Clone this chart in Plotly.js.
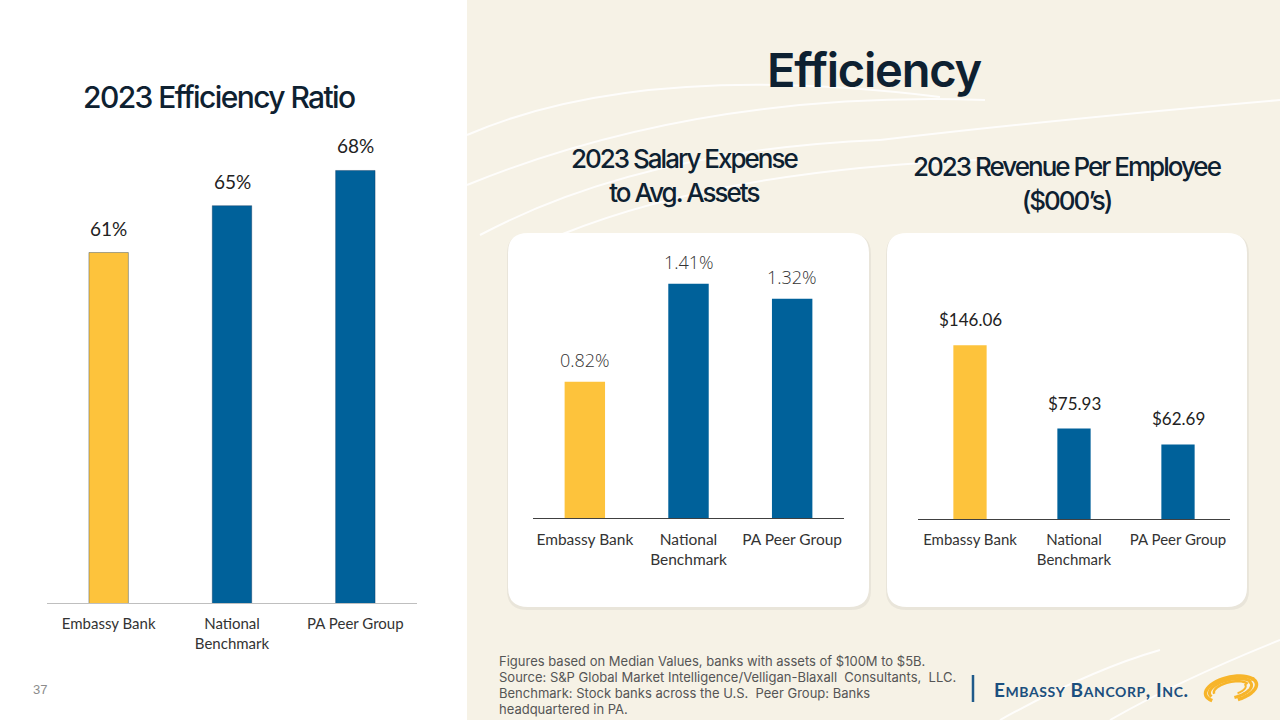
<!DOCTYPE html>
<html><head><meta charset="utf-8">
<script src="https://cdn.plot.ly/plotly-3.0.1.min.js"></script>
<style>html,body{margin:0;padding:0;background:#fff;}#chart{width:1280px;height:720px;}</style>
</head><body><div id="chart"></div>
<script>
// ---- data ----
const categories = ['Embassy Bank', 'National<br>Benchmark', 'PA Peer Group'];
const efficiencyRatio = [0.61, 0.65, 0.68];
const efficiencyLabels = ['61%', '65%', '68%'];
const salaryExpense = [0.82, 1.41, 1.32];
const salaryLabels = ['0.82%', '1.41%', '1.32%'];
const revenuePerEmployee = [146.06, 75.93, 62.69];
const revenueLabels = ['$146.06', '$75.93', '$62.69'];
const barColors = ['#FDC33C', '#00619A', '#00619A'];
const footnoteLines = [
  'Figures based on Median Values, banks with assets of $100M to $5B.',
  'Source: S&P Global Market Intelligence/Velligan-Blaxall  Consultants,  LLC.',
  'Benchmark: Stock banks across the U.S.  Peer Group: Banks',
  'headquartered in PA.'
];

// ---- helpers ----
const W = 1280, H = 720;
const fx = p => p / W;
const fy = p => 1 - p / H;

function roundRect(x0, y0, x1, y1, r) {
  return `M${x0+r},${y0} L${x1-r},${y0} Q${x1},${y0} ${x1},${y0+r} L${x1},${y1-r} Q${x1},${y1} ${x1-r},${y1} L${x0+r},${y1} Q${x0},${y1} ${x0},${y1-r} L${x0},${y0+r} Q${x0},${y0} ${x0+r},${y0} Z`;
}
function pathPx(d){ // pixel path -> paper path
  return d.replace(/(-?\d+\.?\d*),(-?\d+\.?\d*)/g, (m,a,b)=> (fx(+a)).toFixed(5)+','+(fy(+b)).toFixed(5));
}

const shapes = [];
shapes.push({type:'rect', xref:'paper', yref:'paper', x0:fx(467), x1:1, y0:0, y1:1, fillcolor:'#F6F2E6', line:{width:0}, layer:'below'});
const arcs = [
  'M467,135 Q640,60 940,97',
  'M467,185 Q700,90 985,100',
  'M480,235 Q640,150 880,140',
  'M560,235 Q720,170 980,160',
  'M880,140 Q1050,120 1280,100',
  'M1110,720 Q1180,680 1280,640',
  'M1000,720 Q1090,670 1160,650'
];
arcs.forEach(a => shapes.push({type:'path', xref:'paper', yref:'paper', path:pathPx(a), line:{color:'rgba(255,255,255,0.85)', width:2}, layer:'below'}));
[[508,233,869,607],[887,233,1247,607]].forEach(b=>{
  shapes.push({type:'path', xref:'paper', yref:'paper', path:pathPx(roundRect(b[0]-1,b[1]+1,b[2]+2,b[3]+3,20)), fillcolor:'rgba(0,0,0,0.05)', line:{width:0}, layer:'below'});
  shapes.push({type:'path', xref:'paper', yref:'paper', path:pathPx(roundRect(b[0],b[1],b[2],b[3],20)), fillcolor:'#FFFFFF', line:{width:0}, layer:'below'});
});
shapes.push({type:'line', xref:'paper', yref:'paper', x0:fx(973), x1:fx(973), y0:fy(675), y1:fy(702), line:{color:'#1F5A8A', width:2.5}});
function ellArc(cx, cy, rx, ry, a0, a1, rot){
  const pts=[]; const n=24; const c=Math.cos(rot), s=Math.sin(rot);
  for(let i=0;i<=n;i++){const t=a0+(a1-a0)*i/n; const x=rx*Math.cos(t), y=ry*Math.sin(t);
    pts.push(`${(cx+x*c-y*s).toFixed(2)},${(cy+x*s+y*c).toFixed(2)}`);}
  return 'M'+pts.join(' L');
}
[[26,12,2.5,5.9,3.5],[22,9.5,2.8,6.0,3],[17.5,7,3.0,6.1,2.5],[26,12,-0.5,1.4,3.5],[21,9,-0.4,1.5,3],[15,6,-0.3,1.2,2]].forEach(e=>{
  shapes.push({type:'path', xref:'paper', yref:'paper', path:pathPx(ellArc(1231,689,e[0],e[1],e[2],e[3],-0.22)), line:{color:'#F7B52A', width:e[4]}});
});

const annotations = [];
function ann(text, x, y, opts){ annotations.push(Object.assign({text, xref:'paper', yref:'paper', x:fx(x), y:fy(y), showarrow:false, xanchor:'center', yanchor:'middle'}, opts)); }
const titleFont = {family:'Inter', weight:500, color:'#0E2131'};
ann('<span style="letter-spacing:-1.6px">2023 Efficiency Ratio</span>', 219, 97, {font:Object.assign({size:30}, titleFont)});
ann('<span style="letter-spacing:-1.2px">Efficiency</span>', 874, 70, {font:{family:'Inter', weight:600, color:'#0E2131', size:47}});
ann('<span style="letter-spacing:-2px">2023 Salary Expense<br>to Avg. Assets</span>', 684, 175, {font:Object.assign({size:26}, titleFont)});
ann('<span style="letter-spacing:-2px">2023 Revenue Per Employee<br>($000’s)</span>', 1067, 183, {font:Object.assign({size:26}, titleFont)});
footnoteLines.forEach((t,i)=> ann(t, 497, 661 + 16*i, {xanchor:'left', align:'left', font:{family:'Inter', size:13, color:'#555555'}}));
ann('37', 40, 689, {font:{family:'Liberation Sans', size:13, color:'#8C8C8C'}});
const sc = s => `<span style="font-size:14px">${s}</span>`;
ann(`<span style="letter-spacing:0.6px"><b>E${sc('MBASSY')} B${sc('ANCORP')}, I${sc('NC')}.</b></span>`, 992, 689, {xanchor:'left', font:{family:'Lato', size:19, color:'#1B4F7E'}});

function valueLabels(xa, ya, vals, labels, font, shift){
  vals.forEach((v,i)=> annotations.push({xref:xa, yref:ya, x:categories[i], y:v, text:labels[i], showarrow:false, yanchor:'bottom', yshift:shift, font}));
}
valueLabels('x','y', efficiencyRatio, efficiencyLabels, {family:'Lato', size:19, color:'#222222'}, 11);
valueLabels('x2','y2', salaryExpense, salaryLabels, {family:'Open Sans', weight:300, size:18, color:'#333333'}, 8);
valueLabels('x3','y3', revenuePerEmployee, revenueLabels, {family:'Lato', size:17, color:'#222222'}, 13);

const traces = [
  {type:'bar', x:categories, y:efficiencyRatio, xaxis:'x', yaxis:'y', width:0.32, marker:{color:barColors, line:{color:'rgba(0,40,80,0.35)', width:1}}, hoverinfo:'skip'},
  {type:'bar', x:categories, y:salaryExpense, xaxis:'x2', yaxis:'y2', width:0.39, marker:{color:barColors}, hoverinfo:'skip'},
  {type:'bar', x:categories, y:revenuePerEmployee, xaxis:'x3', yaxis:'y3', width:0.32, marker:{color:barColors}, hoverinfo:'skip'}
];

function xax(d0, d1, anchor, lineColor, fs){ return {domain:[fx(d0), fx(d1)], anchor, showline:true, linecolor:lineColor, linewidth:1, showgrid:false, zeroline:false, ticks:'', ticklabelstandoff:7, tickfont:{family:'Lato', size:fs, color:'#333333'}, fixedrange:true, type:'category'}; }
function yax(b, t, range, anchor){ return {domain:[fy(b), fy(t)], anchor, range, visible:false, showgrid:false, zeroline:false, fixedrange:true}; }

const layout = {
  width:W, height:H, margin:{l:0,r:0,t:0,b:0}, paper_bgcolor:'#FFFFFF', plot_bgcolor:'rgba(0,0,0,0)',
  showlegend:false,
  xaxis: xax(47, 417, 'y', '#BFBFBF', 15),
  yaxis: yax(603, 140, [0.311, 0.706], 'x'),
  xaxis2: xax(533, 844, 'y2', '#404040', 15.5),
  yaxis2: yax(518, 250, [0, 1.614], 'x2'),
  xaxis3: xax(918, 1230, 'y3', '#404040', 15),
  yaxis3: yax(519, 250, [0, 226], 'x3'),
  shapes, annotations
};
Plotly.newPlot('chart', traces, layout, {staticPlot:true, displayModeBar:false});
</script></body></html>
